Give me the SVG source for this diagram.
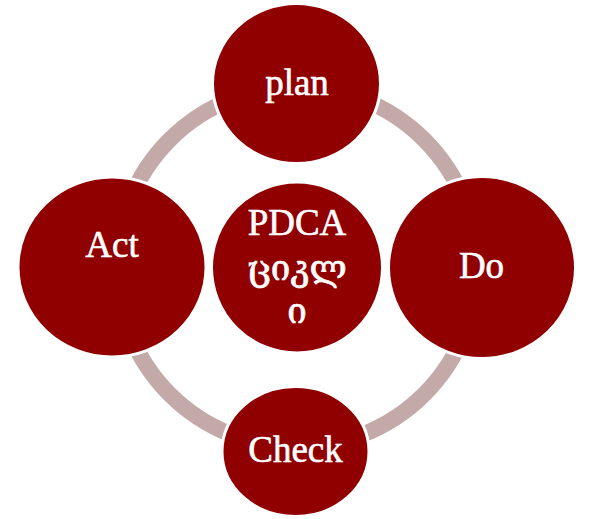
<svg xmlns="http://www.w3.org/2000/svg" width="590" height="519" viewBox="0 0 590 519">
<style>
.node{fill:#900000;stroke:#ffffff;stroke-width:3}
.lbl{fill:#ffffff;stroke:#ffffff;stroke-width:0.6;font-family:"Liberation Serif","DejaVu Serif",serif;font-size:37px;text-anchor:middle}
.geo{font-family:"DejaVu Serif","Liberation Serif",serif;font-size:35px;stroke-width:0.7}
.ring{fill:none;stroke:#c4a9a9;stroke-width:16}
</style>
<rect width="590" height="519" fill="#ffffff"/>
<g id="connectors">
<circle class="ring" cx="297" cy="267" r="180"/>
</g>
<g id="node-plan">
<ellipse class="node" cx="296.5" cy="83.5" rx="84" ry="80"/>
<text class="lbl" x="297" y="95">plan</text>
</g>
<g id="node-do">
<ellipse class="node" cx="482" cy="267.5" rx="93.5" ry="91"/>
<text class="lbl" x="481.5" y="278">Do</text>
</g>
<g id="node-check">
<ellipse class="node" cx="295.5" cy="451.5" rx="73.5" ry="65"/>
<text class="lbl" x="295.5" y="462">Check</text>
</g>
<g id="node-act">
<ellipse class="node" cx="112" cy="267" rx="94" ry="90"/>
<text class="lbl" x="112" y="257">Act</text>
</g>
<g id="node-center">
<ellipse class="node" cx="297" cy="267.5" rx="85.5" ry="85.5"/>
<text class="lbl" x="297" y="235">PDCA</text>
<text class="lbl geo" x="297" y="280">ციკლ</text>
<text class="lbl geo" x="297" y="323">ი</text>
</g>
</svg>
